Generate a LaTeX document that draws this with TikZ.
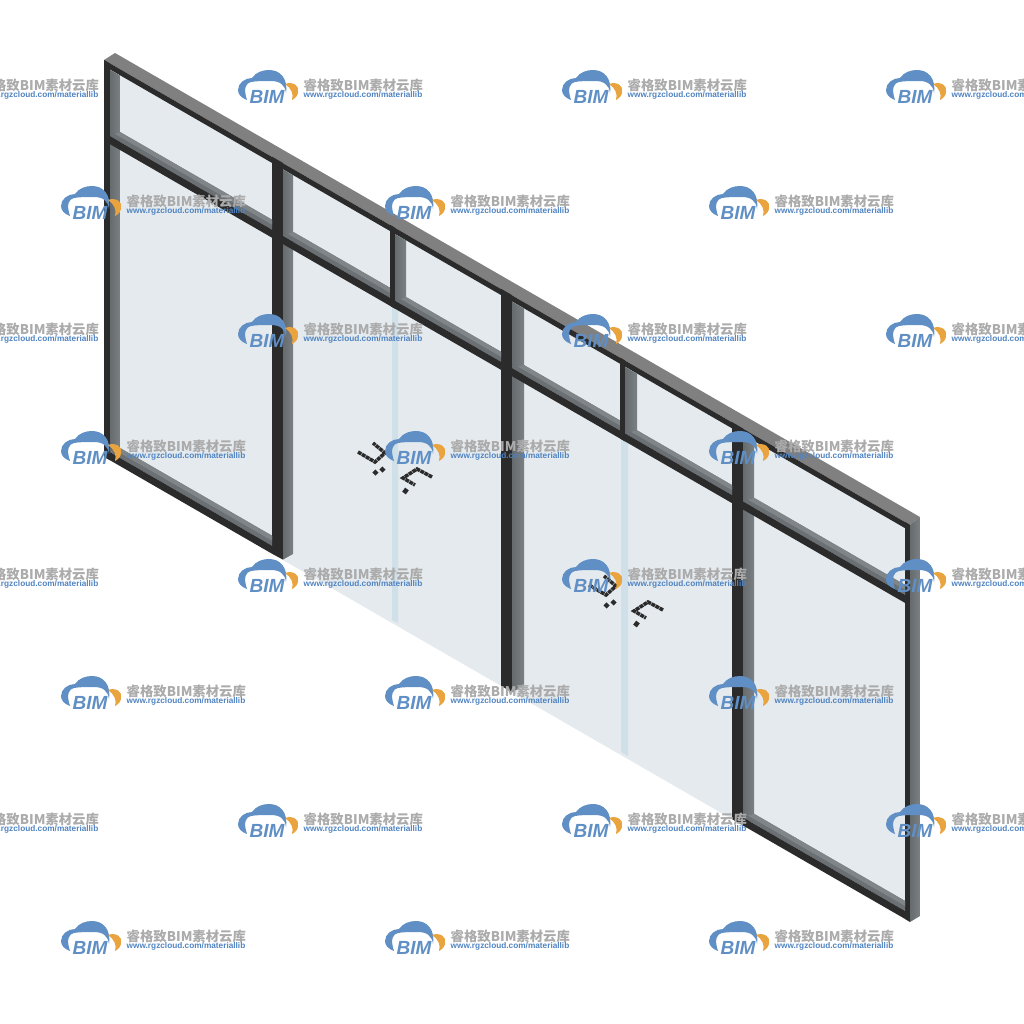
\documentclass[tikz,border=0pt]{standalone}
\usepackage{fontspec}
\setmainfont{Liberation Sans}
\newfontfamily\cjkfont{Noto Sans CJK SC}
\definecolor{glasscol}{HTML}{E4EAEE}
\definecolor{stripcol}{HTML}{CFE0E9}
\definecolor{darkcol}{HTML}{2B2B2B}
\definecolor{facecol}{HTML}{808080}
\definecolor{beamcol}{HTML}{6A7074}
\definecolor{beamlight}{HTML}{808588}
\definecolor{postleft}{HTML}{666B6E}
\definecolor{postmid}{HTML}{5E6468}
\definecolor{postright}{HTML}{7A8083}
\definecolor{logoblue}{HTML}{5F8FC4}
\definecolor{logoorange}{HTML}{E9A33F}
\definecolor{marktext}{HTML}{ABABAB}
\definecolor{markurl}{HTML}{4F83C1}

\newcommand{\bimmark}[3]{%
    \begin{scope}[shift={(#2,#3)}]
        \fill [logoblue] (9,13) .. controls (3,11) and (0,7) .. (0,3)
            .. controls (0,-4) and (7,-9) .. (14,-9)
            .. controls (18,-15) and (25,-17) .. (31,-17)
            .. controls (42,-17) and (50,-9) .. (48,6)
            .. controls (47,-2) and (42,-6) .. (33,-6)
            .. controls (25,-6) and (18,-6) .. (13,-5)
            .. controls (8,-4) and (5,1) .. (9,13) -- cycle;
        \fill [logoorange] (47,-3) .. controls (55,-6) and (62,-1) .. (60,5)
            .. controls (60,8) and (58,11) .. (54,13)
            .. controls (56,7) and (53,1) .. (47,-3) -- cycle;
        \node [marklogo] (#1logo) at (29,9.5) {BIM};
        \node [marktitle] (#1title) at (65,-1.5) {睿格致BIM素材云库};
        \node [markaddr] (#1addr) at (65,8.5) {www.rgzcloud.com/materiallib};
    \end{scope}}

\begin{document}
\begin{tikzpicture}[x=0.01cm,y=-0.01cm]
    \tikzstyle{glass}=[fill=glasscol]
    \tikzstyle{doorstrip}=[fill=stripcol]
    \tikzstyle{darkband}=[fill=darkcol]
    \tikzstyle{topface}=[fill=facecol]
    \tikzstyle{beam}=[fill=beamcol]
    \tikzstyle{beamtop}=[fill=beamlight]
    \tikzstyle{post}=[left color=postleft,middle color=postmid,right color=postright]
    \tikzstyle{handle}=[line width=1pt,darkcol,dash pattern=on 1.1pt off 0.2pt]
    \tikzstyle{handleknob}=[line width=1.3pt,darkcol]
    \tikzstyle{marklogo}=[inner sep=0,logoblue,font=\fontsize{5.4}{6}\selectfont\bfseries\itshape]
    \tikzstyle{marktitle}=[inner sep=0,anchor=west,marktext,font=\cjkfont\bfseries\fontsize{3.8}{5}\selectfont]
    \tikzstyle{markaddr}=[inner sep=0,anchor=west,markurl,font=\fontsize{2.35}{3}\selectfont\bfseries]
    \clip (0,0) rectangle (1024,1024);
    % glass
    \fill [glass] (120,75) -- (905,528) -- (905,901) -- (743,808) -- (743,825.5) -- (272,553.7) -- (272,536) -- (120,448) -- cycle;
    \fill [doorstrip] (392,300) -- (398,300) -- (398,623) -- (392,620) -- cycle;
    \fill [doorstrip] (621,430) -- (628,430) -- (628,756) -- (621,752) -- cycle;
    % door handles
    \foreach \dx/\dy in {0/0,231/133} {
        \begin{scope}[shift={(\dx,\dy)}]
            \draw [handle] (358,452) -- (375,462) -- (385,453) -- (373,443);
            \draw [handleknob] (374,474) -- (377,471);
            \draw [handleknob] (381,471) -- (384,468);
            \draw [handle] (432,477) -- (417,469) -- (403,478) -- (415,485);
            \draw [handleknob] (404,493) -- (407,489);
        \end{scope}
    }
    % top of frame
    \fill [topface] (104,60) -- (115,53) -- (920,517) -- (910,525) -- cycle;
    \fill [darkband] (104,60) -- (910,525) -- (910,531) -- (104,66) -- cycle;
    % side posts and mullions
    \fill [darkband] (104,60) -- (110,63.5) -- (110,460.2) -- (104,456.8) -- cycle;
    \shade [post] (110,69.7) -- (120,75.5) -- (120,448) -- (110,452.2) -- cycle;
    \fill [darkband] (905,522) -- (910,525) -- (910,922) -- (905,919) -- cycle;
    \shade [post] (910,525) -- (920,517) -- (920,916) -- (910,922) -- cycle;
    \fill [darkband] (272,156.7) -- (283,163) -- (283,559.6) -- (272,553.7) -- cycle;
    \shade [post] (283,169.6) -- (293,175.3) -- (293,554) -- (283,559.6) -- cycle;
    \fill [darkband] (501,288.8) -- (512,295.2) -- (512,692.2) -- (501,685.8) -- cycle;
    \shade [post] (512,301.7) -- (524,308.6) -- (524,686) -- (512,692.2) -- cycle;
    \fill [darkband] (732,422.1) -- (743,428.5) -- (743,825.5) -- (732,819.1) -- cycle;
    \shade [post] (743,435) -- (754,441.3) -- (754,819) -- (743,825.5) -- cycle;
    % transom
    \fill [beam] (110,136.2) -- (120,132) -- (272,219.7) -- (272,229.7) -- cycle;
    \fill [beamtop] (115,134) -- (120,132) -- (272,219.7) -- (272,224.7) -- cycle;
    \fill [darkband] (110,136.2) -- (272,229.7) -- (272,237.7) -- (110,144.2) -- cycle;
    \fill [beam] (283,236.1) -- (293,231.8) -- (501,351.8) -- (501,361.8) -- cycle;
    \fill [beamtop] (288,234) -- (293,231.8) -- (501,351.8) -- (501,356.8) -- cycle;
    \fill [darkband] (283,236.1) -- (501,361.8) -- (501,369.8) -- (283,244.1) -- cycle;
    \fill [beam] (512,368.2) -- (524,365.1) -- (732,485.1) -- (732,495.1) -- cycle;
    \fill [beamtop] (518,366.6) -- (524,365.1) -- (732,485.1) -- (732,490.1) -- cycle;
    \fill [darkband] (512,368.2) -- (732,495.1) -- (732,503.1) -- (512,376.2) -- cycle;
    \fill [beam] (743,501.5) -- (754,497.8) -- (905,584.9) -- (905,594.9) -- cycle;
    \fill [beamtop] (748,499.7) -- (754,497.8) -- (905,584.9) -- (905,589.9) -- cycle;
    \fill [darkband] (743,501.5) -- (905,594.9) -- (905,602.9) -- (743,509.5) -- cycle;
    % mullions over the transom
    \fill [darkband] (390,224.8) -- (395,227.7) -- (395,308.7) -- (390,305.8) -- cycle;
    \shade [post] (395,234.2) -- (406,240.5) -- (406,297) -- (395,300.7) -- cycle;
    \fill [darkband] (620,357.5) -- (625,360.4) -- (625,441.4) -- (620,438.5) -- cycle;
    \shade [post] (625,366.9) -- (637,373.8) -- (637,430.3) -- (625,433.4) -- cycle;
    % bottom rails
    \fill [beam] (110,452.2) -- (120,448) -- (272,535.7) -- (272,545.7) -- cycle;
    \fill [beamtop] (115,450) -- (120,448) -- (272,535.7) -- (272,540.7) -- cycle;
    \fill [darkband] (104,456.8) -- (110,452.2) -- (272,545.7) -- (272,553.7) -- cycle;
    \fill [beam] (743,817.5) -- (754,813.8) -- (905,900.9) -- (905,910.9) -- cycle;
    \fill [beamtop] (748,815.7) -- (754,813.8) -- (905,900.9) -- (905,905.9) -- cycle;
    \fill [darkband] (743,817.5) -- (905,910.9) -- (905,918.9) -- (743,825.5) -- cycle;
    % watermarks
    \bimmark{aa}{-86}{87} \bimmark{ab}{238}{87} \bimmark{ac}{562}{87} \bimmark{ad}{886}{87}
    \bimmark{ba}{61}{203} \bimmark{bb}{385}{203} \bimmark{bc}{709}{203}
    \bimmark{ca}{-86}{331} \bimmark{cb}{238}{331} \bimmark{cc}{562}{331} \bimmark{cd}{886}{331}
    \bimmark{da}{61}{448} \bimmark{db}{385}{448} \bimmark{dc}{709}{448}
    \bimmark{ea}{-86}{576} \bimmark{eb}{238}{576} \bimmark{ec}{562}{576} \bimmark{ed}{886}{576}
    \bimmark{fa}{61}{693} \bimmark{fb}{385}{693} \bimmark{fc}{709}{693}
    \bimmark{ga}{-86}{821} \bimmark{gb}{238}{821} \bimmark{gc}{562}{821} \bimmark{gd}{886}{821}
    \bimmark{ha}{61}{938} \bimmark{hb}{385}{938} \bimmark{hc}{709}{938}
\end{tikzpicture}
\end{document}
